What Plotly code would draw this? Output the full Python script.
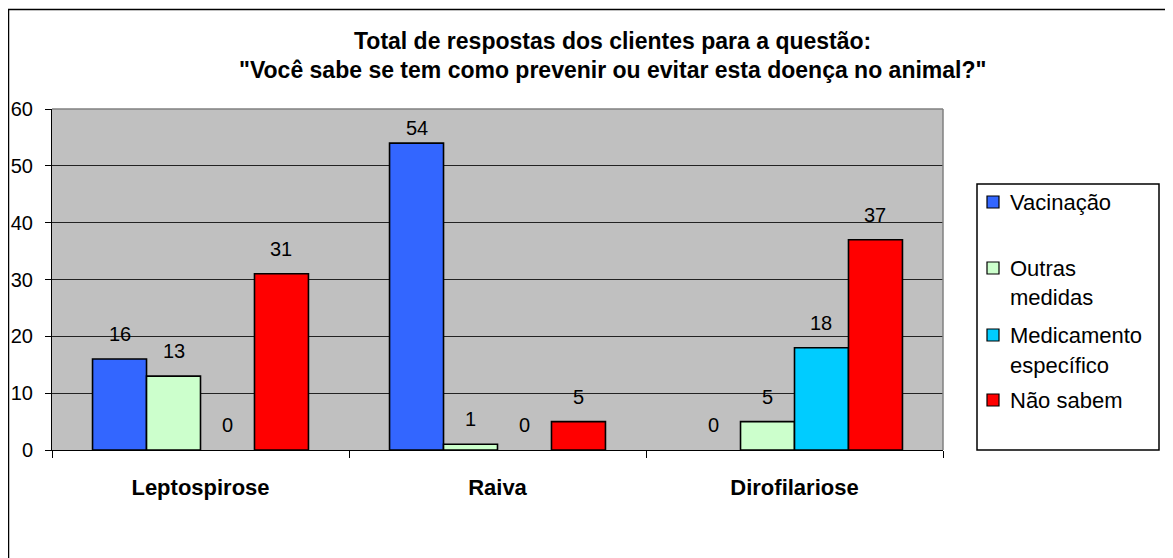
import plotly.graph_objects as go

# ---- data ----
categories = ["Leptospirose", "Raiva", "Dirofilariose"]
series_names = ["Vacinação", "Outras medidas", "Medicamento específico", "Não sabem"]
legend_lines = [["Vacinação"], ["Outras", "medidas"], ["Medicamento", "específico"], ["Não sabem"]]
vacinacao = [16, 54, 0]
outras_medidas = [13, 1, 5]
medicamento = [0, 0, 18]
nao_sabem = [31, 5, 37]
series_values = [vacinacao, outras_medidas, medicamento, nao_sabem]
colors = ["#3366FF", "#CCFFCC", "#00CCFF", "#FF0000"]
title_lines = ["Total de respostas dos clientes para a questão:",
               "\"Você sabe se tem como prevenir ou evitar esta doença no animal?\""]
y_max = 60
y_step = 10

# ---- layout geometry (pixels, page coords; page body has an 8px margin) ----
OFF = 8
W, H = 1173 - OFF, 558 - OFF
L, R, T, B = 52 - OFF, 943 - OFF, 109 - OFF, 450 - OFF
FONT = "Liberation Sans, Arial, sans-serif"
bargap = 0.273

def px2x(px):
    return (px - OFF - L) / (R - L)

def py2y(py):
    return (B - (py - OFF)) / (B - T)

fig = go.Figure()
for name, vals, col in zip(series_names, series_values, colors):
    fig.add_trace(go.Bar(
        x=categories, y=vals, name=name,
        marker=dict(color=col, line=dict(color="black",
                                         width=[0 if v == 0 else 1.6 for v in vals])),
        showlegend=False, hoverinfo="x+y+name",
    ))

# data labels above bars
ppu = (B - T) / y_max
cat_px = (R - L) / len(categories)
bar_px = cat_px * (1 - bargap) / len(series_names)
annotations = []
for i, vals in enumerate(series_values):
    for j, v in enumerate(vals):
        shift = min(25, (y_max - v) * ppu - 19)
        annotations.append(dict(
            x=categories[j], y=v, xref="x", yref="y",
            text=str(v), showarrow=False,
            xshift=(i - (len(series_names) - 1) / 2) * bar_px,
            yshift=shift, yanchor="middle", xanchor="center",
            font=dict(family=FONT, size=20, color="black"),
        ))

# title
title_y = [41, 70]
for line, ty in zip(title_lines, title_y):
    annotations.append(dict(
        x=px2x(612), y=py2y(ty), xref="paper", yref="paper",
        text="<b>" + line + "</b>", showarrow=False,
        xanchor="center", yanchor="middle",
        font=dict(family=FONT, size=23, color="black"),
    ))

# legend (manual, Excel style)
shapes = []
leg_box = (977, 184, 1159, 450)
shapes.append(dict(type="rect", xref="paper", yref="paper",
                   x0=px2x(leg_box[0]), x1=px2x(leg_box[2]),
                   y0=py2y(leg_box[3]), y1=py2y(leg_box[1]),
                   line=dict(color="black", width=1.5), fillcolor="white", layer="above"))
item_y = [[202], [268, 297], [335, 365], [400]]
for lines, ys, col in zip(legend_lines, item_y, colors):
    sy = ys[0]
    shapes.append(dict(type="rect", xref="paper", yref="paper",
                       x0=px2x(987), x1=px2x(999), y0=py2y(sy + 6), y1=py2y(sy - 6),
                       line=dict(color="black", width=1.2), fillcolor=col, layer="above"))
    for txt, ly in zip(lines, ys):
        annotations.append(dict(
            x=px2x(1008), y=py2y(ly), xref="paper", yref="paper",
            text=txt, showarrow=False, xanchor="left", yanchor="middle",
            font=dict(family=FONT, size=22, color="black"),
        ))

# plot area border (top & right, gray)
shapes.append(dict(type="line", xref="paper", yref="paper", x0=0, x1=1, y0=1, y1=1,
                   line=dict(color="#808080", width=1.5), layer="above"))
shapes.append(dict(type="line", xref="paper", yref="paper", x0=1, x1=1, y0=0, y1=1,
                   line=dict(color="#808080", width=1.5), layer="above"))
# outer chart frame (left & top visible)
shapes.append(dict(type="line", xref="paper", yref="paper",
                   x0=px2x(8.5), x1=px2x(8.5), y0=py2y(9), y1=py2y(600),
                   line=dict(color="black", width=1.5)))
shapes.append(dict(type="line", xref="paper", yref="paper",
                   x0=px2x(8), x1=px2x(1200), y0=py2y(9.5), y1=py2y(9.5),
                   line=dict(color="black", width=1.5)))

fig.update_layout(
    width=W, height=H,
    margin=dict(l=L, r=W - R, t=T, b=H - B, pad=0, autoexpand=False),
    paper_bgcolor="white", plot_bgcolor="#C0C0C0",
    barmode="group", bargap=bargap, bargroupgap=0,
    font=dict(family=FONT, color="black"),
    annotations=annotations, shapes=shapes,
    showlegend=False,
)
fig.update_xaxes(
    automargin=False,
    showline=True, linecolor="black", linewidth=1,
    ticks="outside", tickson="boundaries", ticklen=7, tickcolor="black",
    tickfont=dict(family=FONT, size=22, color="black"),
    tickvals=categories, ticktext=["<b>" + c + "</b>" for c in categories],
    ticklabelstandoff=18, showgrid=False, zeroline=False,
)
fig.update_yaxes(
    automargin=False,
    range=[0, y_max], dtick=y_step, tick0=0,
    showline=True, linecolor="black", linewidth=1,
    ticks="outside", ticklen=6, tickcolor="black",
    tickfont=dict(family=FONT, size=20, color="black"),
    ticklabelstandoff=8,
    showgrid=True, gridcolor="#222222", gridwidth=1, zeroline=False,
)

fig.write_html("out.html")
